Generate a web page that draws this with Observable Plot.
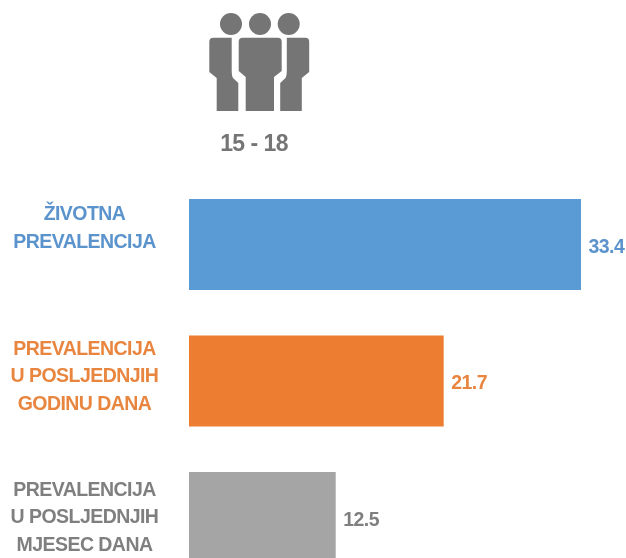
<!DOCTYPE html>
<html>
<head>
<meta charset="utf-8">
<script src="https://cdn.jsdelivr.net/npm/d3@7"></script>
<script src="https://cdn.jsdelivr.net/npm/@observablehq/plot@0.6"></script>
<style>
html,body{margin:0;padding:0;background:#fff;overflow:hidden}
svg{display:block;filter:blur(0.4px)}
svg text{letter-spacing:-0.55px}
</style>
</head>
<body>
<div id="chart"></div>
<script>
const categories = ["ŽIVOTNA\nPREVALENCIJA", "PREVALENCIJA\nU POSLJEDNJIH\nGODINU DANA", "PREVALENCIJA\nU POSLJEDNJIH\nMJESEC DANA"];
const values = [33.4, 21.7, 12.5];
const barColors = ["#5B9BD5", "#ED7D31", "#A5A5A5"];
const textColors = ["#5B93CC", "#E8853F", "#7F7F7F"];
const labelShift = [-19.5, -8, -3.5];
const ageGroup = "15 - 18";
const rows = categories.map((category, i) => ({category, value: values[i], bar: barColors[i], text: textColors[i], shift: labelShift[i]}));

const font = "'Liberation Sans', Arial, sans-serif";

function peopleIcon() {
  const g = d3.create("svg:g").attr("fill", "#757575");
  [231, 260, 288.7].forEach(cx => g.append("circle").attr("cx", cx).attr("cy", 24).attr("r", 11));
  g.append("path").attr("d", "M242.7 37.7H277.7Q281.7 37.7 281.7 41.7V71L274 77V111H245.7V77L238.7 71V41.7Q238.7 37.7 242.7 37.7Z");
  g.append("path").attr("d", "M213.3 37.7H231.7V70Q231.7 76 233 78L238.3 83V111H216.7V78L209.3 72V41.7Q209.3 37.7 213.3 37.7Z");
  g.append("path").attr("d", "M305.2 37.7H286.8V70Q286.8 76 285.5 78L280.2 83V111H301.8V78L309.2 72V41.7Q309.2 37.7 305.2 37.7Z");
  return g.node();
}

const labelMarks = rows.map(r => Plot.text([r], {
  y: "category",
  text: "category",
  frameAnchor: "left",
  textAnchor: "middle",
  lineHeight: 1.43,
  dx: 84,
  dy: r.shift,
  fill: "text",
  fontSize: 19.5,
  fontWeight: "bold"
}));

const plot = Plot.plot({
  width: 626,
  height: 558,
  marginLeft: 0,
  marginRight: 0,
  marginTop: 0,
  marginBottom: 0,
  style: {fontFamily: font, background: "#fff"},
  x: {domain: [0, 33.4], range: [189, 581], axis: null},
  y: {domain: categories, range: [176.25, 585.75], paddingInner: 1 / 3, paddingOuter: 1 / 6, round: false, axis: null},
  marks: [
    peopleIcon,
    Plot.text([ageGroup], {
      text: d => d,
      frameAnchor: "top-left",
      dx: 253.5,
      dy: 143,
      textAnchor: "middle",
      lineAnchor: "middle",
      fill: "#757575",
      fontSize: 23,
      fontWeight: "bold"
    }),
    Plot.barX(rows, {x: "value", y: "category", fill: "bar"}),
    Plot.text(rows, {
      x: "value",
      y: "category",
      text: d => d.value.toFixed(1),
      textAnchor: "start",
      dx: 7,
      dy: 1.5,
      fill: "text",
      fontSize: 19.5,
      fontWeight: "bold"
    }),
    ...labelMarks
  ]
});
document.getElementById("chart").appendChild(plot);
</script>
</body>
</html>
